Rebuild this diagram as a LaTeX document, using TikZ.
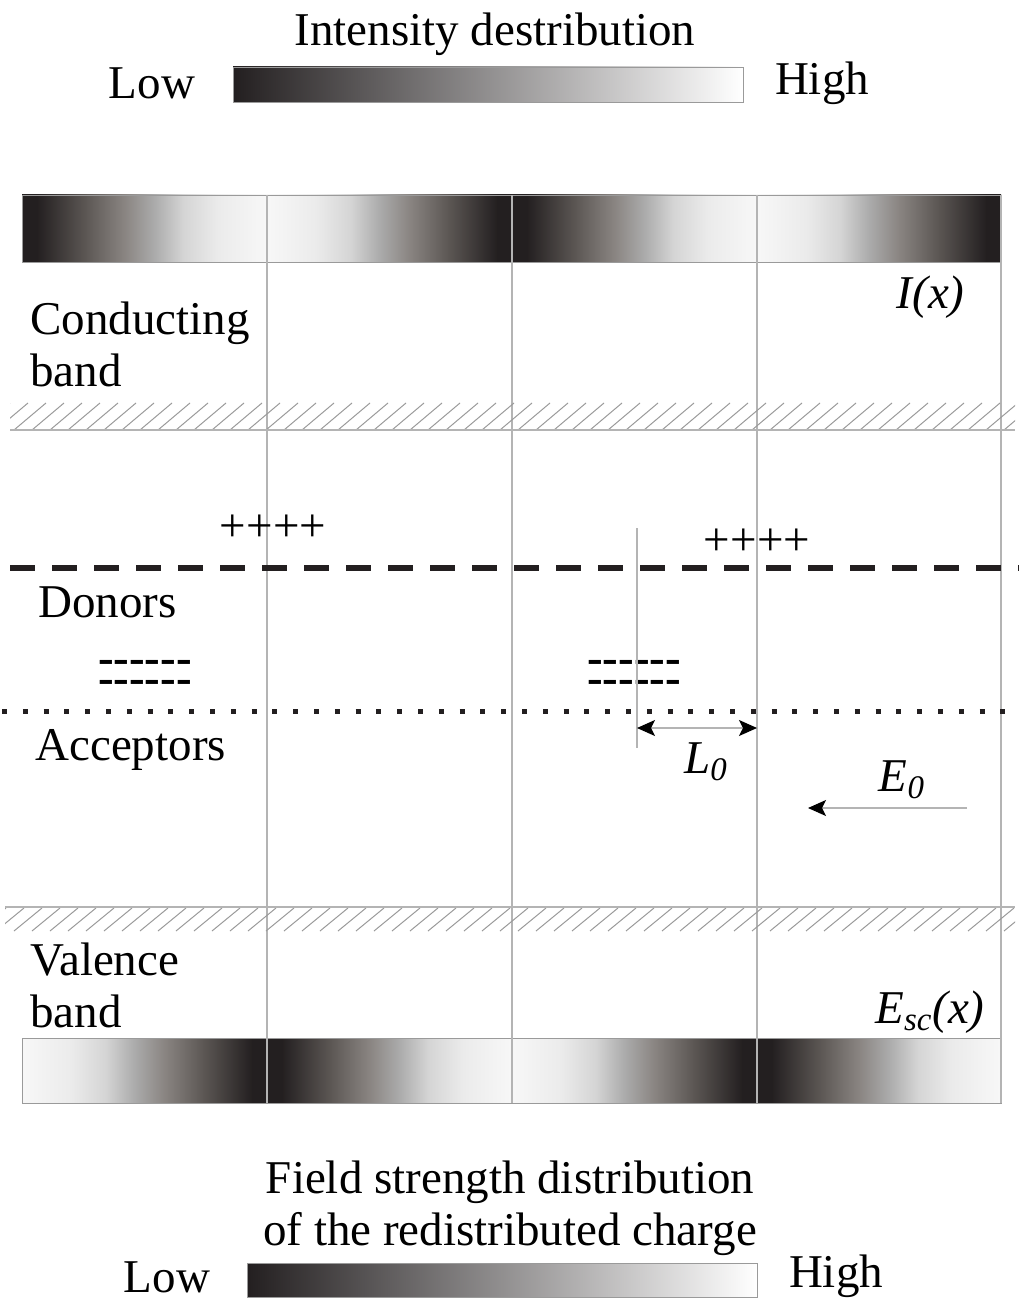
\documentclass[tikz,border=0pt]{standalone}
\usepackage{fontspec}
\setmainfont{Liberation Serif}
\usepackage{tikz}
\usetikzlibrary{arrows.meta,calc}
\definecolor{koyuGri}{HTML}{231F20}
\definecolor{derinGri}{HTML}{5C5754}
\definecolor{ortaGri}{HTML}{8A8582}
\definecolor{gumusGri}{HTML}{ABABAB}
\definecolor{acikGri}{HTML}{D5D5D5}
\definecolor{solukGri}{HTML}{EBEBEB}
\definecolor{cizgiGri}{HTML}{B4B4B4}
\definecolor{taramaGri}{HTML}{9A9A9A}
\pgfdeclarehorizontalshading{koyuAcik}{100bp}{color(0bp)=(koyuGri); color(25bp)=(koyuGri); color(28bp)=(koyuGri); color(38bp)=(derinGri); color(46bp)=(ortaGri); color(52bp)=(gumusGri); color(58bp)=(acikGri); color(65bp)=(solukGri); color(75bp)=(white!97!black); color(100bp)=(white!97!black)}
\pgfdeclarehorizontalshading{acikKoyu}{100bp}{color(0bp)=(white!97!black); color(25bp)=(white!97!black); color(35bp)=(solukGri); color(42bp)=(acikGri); color(48bp)=(gumusGri); color(54bp)=(ortaGri); color(62bp)=(derinGri); color(72bp)=(koyuGri); color(75bp)=(koyuGri); color(100bp)=(koyuGri)}
\tikzset{
  etiket/.style={inner sep=0pt,font=\fontsize{23.5}{26}\selectfont},
  blok/.style={etiket,align=left,anchor=west},
  eksi/.style={etiket,align=center,font=\fontsize{23.5}{10}\selectfont\bfseries},
  ok/.style={cizgiGri,line width=0.6pt},
  uc/.tip={Stealth[length=9pt,width=8pt,inset=2pt,black]},
  cubuk/.style={draw=taramaGri,line width=0.4pt,left color=koyuGri,middle color=ortaGri!85!white,right color=white}
}
\begin{document}
\begin{tikzpicture}[x=0.5pt,y=-0.5pt]
\useasboundingbox (0,0) rectangle (1019,1300);
\node[etiket] (baslikUst) at (495,34) {Intensity destribution};
\draw[cubuk] (233,67) rectangle (743,102);
\node[etiket] (dusukUst) at (152,83) {Low};
\node[etiket] (yuksekUst) at (822,83) {High};
\shade[shading=koyuAcik,draw=taramaGri] (22,195) rectangle (267,262);
\shade[shading=acikKoyu,draw=taramaGri] (267,195) rectangle (512,262);
\shade[shading=koyuAcik,draw=taramaGri] (512,195) rectangle (757,262);
\shade[shading=acikKoyu,draw=taramaGri] (757,195) rectangle (1001,262);
\shade[shading=acikKoyu,draw=taramaGri] (22,1038) rectangle (267,1103);
\shade[shading=koyuAcik,draw=taramaGri] (267,1038) rectangle (512,1103);
\shade[shading=acikKoyu,draw=taramaGri] (512,1038) rectangle (757,1103);
\shade[shading=koyuAcik,draw=taramaGri] (757,1038) rectangle (1001,1103);
\foreach \x in {267,512,757,1001}
  \draw[cizgiGri,line width=0.6pt] (\x,195)--(\x,1103);
\begin{scope}
\clip (10,402) rectangle (1015,431);
\foreach \x in {-40,-22,...,1020}
  \draw[taramaGri,line width=0.5pt] (\x,430)--(\x+32,403);
\end{scope}
\draw[cizgiGri,line width=0.9pt] (10,430)--(1015,430);
\begin{scope}
\clip (5,907) rectangle (1015,932);
\foreach \x in {-40,-22,...,1020}
  \draw[taramaGri,line width=0.5pt] (\x,931)--(\x+28,908);
\end{scope}
\draw[cizgiGri,line width=0.9pt] (5,907)--(1015,907);
\node[etiket,anchor=east] (yogunluk) at (965,297) {\textit{I(x)}};
\node[blok] (iletim) at (30,344) {Conducting\\band};
\node[etiket] (arti1) at (273,528) {++++};
\node[etiket] (arti2) at (757,542) {++++};
\draw[koyuGri,line width=2.6pt,dash pattern=on 12.5pt off 8.5pt] (10,568)--(1019,568);
\node[blok] (verici) at (38,602) {Donors};
\node[eksi] (eksi1) at (145,677) {-{}-{}-{}-{}-{}-\\-{}-{}-{}-{}-{}-};
\node[eksi] (eksi2) at (634,677) {-{}-{}-{}-{}-{}-\\-{}-{}-{}-{}-{}-};
\draw[koyuGri,line width=2.5pt,dash pattern=on 2.5pt off 7.9pt] (2,711)--(1019,711);
\node[blok] (alici) at (35,750) {Acceptors};
\coordinate (lUst) at (637,528);
\coordinate (lAlt) at (637,748);
\coordinate (lSol) at (637,728);
\coordinate (lSag) at (757,728);
\draw[ok] (lUst)--(lAlt);
\draw[ok,uc-uc] (lSol)--(lSag);
\node[etiket] (uzunluk) at (706,762) {\textit{L}\textsubscript{\textit{0}}};
\coordinate (eBas) at (967,808);
\coordinate (eSon) at (808,808);
\draw[ok,-uc] (eBas)--(eSon);
\node[etiket] (alan0) at (902,780) {\textit{E}\textsubscript{\textit{0}}};
\node[blok] (degerlik) at (30,985) {Valence\\band};
\node[etiket,anchor=east] (alanSc) at (985,1012) {\textit{E}\textsubscript{\textit{sc}}\textit{(x)}};
\node[etiket,align=center] (baslikAlt) at (510,1208) {Field strength distribution\\of the redistributed charge};
\draw[cubuk] (247,1263) rectangle (757,1297);
\node[etiket] (dusukAlt) at (167,1277) {Low};
\node[etiket] (yuksekAlt) at (836,1276) {High};
\end{tikzpicture}
\end{document}
